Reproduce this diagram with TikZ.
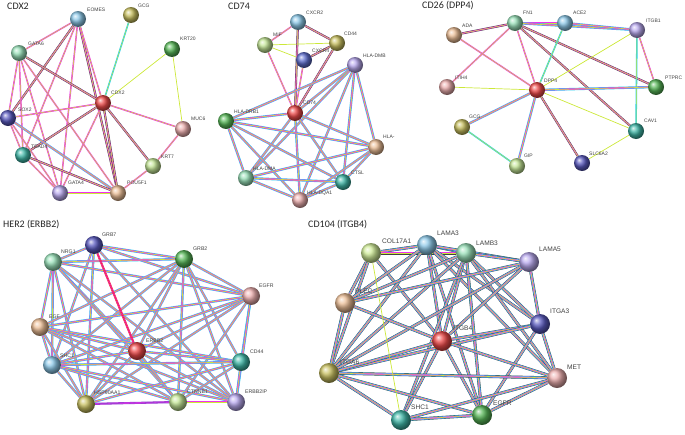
\documentclass[tikz,border=0pt]{standalone}
\usepackage{fontspec}
\newfontfamily\titlefont{Carlito}
\newfontfamily\labfont{Liberation Sans}
\usetikzlibrary{backgrounds}
\definecolor{smag}{HTML}{F030F0}
\definecolor{syel}{HTML}{CCE838}
\definecolor{scyan}{HTML}{28D0F0}
\definecolor{sblk}{HTML}{404040}
\definecolor{sred}{HTML}{F02828}
\definecolor{spur}{HTML}{8040C8}
\definecolor{nlblue}{HTML}{8CC8E8}
\definecolor{nolive}{HTML}{C8C060}
\definecolor{ngreen}{HTML}{58B858}
\definecolor{nmint}{HTML}{98E0B8}
\definecolor{nred}{HTML}{EE4A4A}
\definecolor{nindigo}{HTML}{5A5AC0}
\definecolor{npink}{HTML}{ECAEAE}
\definecolor{nteal}{HTML}{40B8A8}
\definecolor{nlgreen}{HTML}{C4E696}
\definecolor{nlav}{HTML}{B8A8EE}
\definecolor{ntan}{HTML}{ECBE96}
\definecolor{nblue}{HTML}{6070D0}
\definecolor{nyg}{HTML}{D0EC98}
\tikzset{
  nd/.style={circle, inner sep=0pt, minimum size=16pt, shading=ball},
  lb/.style={font=\fontsize{5}{6}\selectfont\labfont, text=black!75, inner sep=0pt, anchor=west},
  lbd/.style={lb, font=\fontsize{5.2}{6}\selectfont\labfont},
  lbe/.style={lb, font=\fontsize{6.6}{7}\selectfont\labfont},
  ttl/.style={font=\fontsize{10}{12}\selectfont\titlefont, text=black!85, inner sep=0pt, anchor=west},
  ey/.style={draw=syel, line width=0.7pt},
  e/.style={draw=smag, line width=0.5pt, double=syel, double distance=0.5pt},
  ek/.style={preaction={draw=sblk, line width=2.1pt}, draw=smag, line width=0.4pt, double=syel, double distance=0.5pt},
  ec/.style={draw=scyan, line width=0.55pt, double=syel, double distance=0.45pt},
  em/.style={preaction={draw=scyan, line width=2.4pt}, draw=smag, line width=0.45pt, double=syel, double distance=0.6pt},
  emk/.style={preaction={draw=sblk, line width=3pt}, preaction={draw=scyan, line width=2.3pt}, draw=smag, line width=0.4pt, double=syel, double distance=0.55pt},
  er/.style={preaction={draw=sred, line width=2.1pt}, draw=smag, line width=0.4pt, double=sred, double distance=0.5pt},
  ep/.style={preaction={draw=spur, line width=2.1pt}, draw=smag, line width=0.45pt, double=spur, double distance=0.45pt},
}
\begin{document}
\begin{tikzpicture}[x=1pt,y=-1pt]
\useasboundingbox (0,0) rectangle (685,434);
% ---------- titles
\node[ttl] (t1) at (7,6) {CDX2};
\node[ttl] (t2) at (228,6) {CD74};
\node[ttl] (t3) at (422,6) {CD26 (DPP4)};
\node[ttl] (t4) at (3,225) {HER2 (ERBB2)};
\node[ttl] (t5) at (308,225) {CD104 (ITGB4)};
% ---------- panel 1 nodes
\node[nd, ball color=nlblue] (aEOMES) at (78,19) {};
\node[nd, ball color=nolive] (aGCG) at (131,15) {};
\node[nd, ball color=ngreen] (aKRT20) at (172,49) {};
\node[nd, ball color=nmint] (aGATA6) at (19,53) {};
\node[nd, ball color=nred] (aCDX2) at (103,103) {};
\node[nd, ball color=nindigo] (aSOX2) at (8,118) {};
\node[nd, ball color=npink] (aMUC6) at (183,129) {};
\node[nd, ball color=nteal] (aTEAD4) at (23,155) {};
\node[nd, ball color=nlgreen] (aKRT7) at (153,166) {};
\node[nd, ball color=nlav] (aGATA4) at (60,193) {};
\node[nd, ball color=ntan] (aPOU5F1) at (118,193) {};
\node[lb] (laEOMES) at (87,10) {EOMES};
\node[lb] (laGCG) at (138,6) {GCG};
\node[lb] (laKRT20) at (180,39) {KRT20};
\node[lb] (laGATA6) at (28,44) {GATA6};
\node[lb] (laCDX2) at (111,93) {CDX2};
\node[lb] (laSOX2) at (18,110) {SOX2};
\node[lb] (laMUC6) at (191,119) {MUC6};
\node[lb] (laTEAD4) at (31,147) {TEAD4};
\node[lb] (laKRT7) at (161,157) {KRT7};
\node[lb] (laGATA4) at (68,183) {GATA4};
\node[lb] (laPOU5F1) at (127,183) {POU5F1};
% ---------- panel 2 nodes
\node[nd, ball color=nlblue] (bCXCR2) at (298,22) {};
\node[nd, ball color=nlgreen] (bMIF) at (265,45) {};
\node[nd, ball color=nolive] (bCD44) at (337,43) {};
\node[nd, ball color=nblue] (bCXCR4) at (304,60) {};
\node[nd, ball color=nlav] (bDMB) at (355,65) {};
\node[nd, ball color=nred] (bCD74) at (295,113) {};
\node[nd, ball color=ngreen] (bDRB1) at (226,121) {};
\node[nd, ball color=ntan] (bHLA) at (376,147) {};
\node[nd, ball color=nmint] (bDMA) at (246,178) {};
\node[nd, ball color=nteal] (bCTSL) at (343,182) {};
\node[nd, ball color=npink] (bDQA1) at (300,200) {};
\node[lb] (lbCXCR2) at (306,13) {CXCR2};
\node[lb] (lbMIF) at (273,35) {MIF};
\node[lb] (lbCD44) at (344,34) {CD44};
\node[lb] (lbCXCR4) at (312,51) {CXCR4};
\node[lb] (lbDMB) at (363,56) {HLA-DMB};
\node[lb] (lbCD74) at (303,103) {CD74};
\node[lb] (lbDRB1) at (234,112) {HLA-DRB1};
\node[lb] (lbHLA) at (383,137) {HLA-};
\node[lb] (lbDMA) at (253,169) {HLA-DMA};
\node[lb] (lbCTSL) at (351,173) {CTSL};
\node[lb] (lbDQA1) at (307,193) {HLA-DQA1};
% ---------- panel 3 nodes
\node[nd, ball color=nmint] (cFN1) at (515,23) {};
\node[nd, ball color=nlblue] (cACE2) at (565,23) {};
\node[nd, ball color=nlav] (cITGB1) at (637,30) {};
\node[nd, ball color=ntan] (cADA) at (454,35) {};
\node[nd, ball color=npink] (cITIH4) at (447,87) {};
\node[nd, ball color=nred] (cDPP4) at (537,90) {};
\node[nd, ball color=ngreen] (cPTPRC) at (656,87) {};
\node[nd, ball color=nolive] (cGCG) at (462,127) {};
\node[nd, ball color=nteal] (cCAV1) at (636,131) {};
\node[nd, ball color=nindigo] (cSLC) at (582,163) {};
\node[nd, ball color=nlgreen] (cGIP) at (517,166) {};
\node[lb] (lcFN1) at (523,13) {FN1};
\node[lb] (lcACE2) at (573,13) {ACE2};
\node[lb] (lcITGB1) at (646,21) {ITGB1};
\node[lb] (lcADA) at (462,26) {ADA};
\node[lb] (lcITIH4) at (455,78) {ITIH4};
\node[lb] (lcDPP4) at (544,81) {DPP4};
\node[lb] (lcPTPRC) at (665,78) {PTPRC};
\node[lb] (lcGCG) at (469,117) {GCG};
\node[lb] (lcCAV1) at (644,121) {CAV1};
\node[lb] (lcSLC) at (589,154) {SLC6A2};
\node[lb] (lcGIP) at (524,156) {GIP};
% ---------- panel 4 nodes
\begin{scope}[nd/.append style={minimum size=18pt}]
\node[nd, ball color=nindigo] (dGRB7) at (94,245) {};
\node[nd, ball color=nmint] (dNRG1) at (53,262) {};
\node[nd, ball color=ngreen] (dGRB2) at (184,259) {};
\node[nd, ball color=npink] (dEGFR) at (251,296) {};
\node[nd, ball color=ntan] (dEGF) at (40,327) {};
\node[nd, ball color=nred] (dERBB2) at (137,351) {};
\node[nd, ball color=nteal] (dCD44) at (241,362) {};
\node[nd, ball color=nlblue] (dSHC1) at (52,365) {};
\node[nd, ball color=nolive] (dHSP) at (86,404) {};
\node[nd, ball color=nlgreen] (dCTNNB1) at (178,402) {};
\node[nd, ball color=nlav] (dERBB2IP) at (236,402) {};
\end{scope}
\node[lbd] (ldGRB7) at (102,235) {GRB7};
\node[lbd] (ldNRG1) at (61,252) {NRG1};
\node[lbd] (ldGRB2) at (193,249) {GRB2};
\node[lbd] (ldEGFR) at (259,286) {EGFR};
\node[lbd] (ldEGF) at (49,317) {EGF};
\node[lbd] (ldERBB2) at (146,341) {ERBB2};
\node[lbd] (ldCD44) at (250,352) {CD44};
\node[lbd] (ldSHC1) at (60,356) {SHC1};
\node[lbd] (ldHSP) at (94,393) {HSP90AA1};
\node[lbd] (ldCTNNB1) at (187,392) {CTNNB1};
\node[lbd] (ldERBB2IP) at (245,392) {ERBB2IP};
% ---------- panel 5 nodes
\begin{scope}[nd/.append style={minimum size=20pt}]
\node[nd, ball color=nyg] (eCOL) at (371,253) {};
\node[nd, ball color=nlblue] (eLAMA3) at (427,245) {};
\node[nd, ball color=nmint] (eLAMB3) at (466,253) {};
\node[nd, ball color=nlav] (eLAMA5) at (529,262) {};
\node[nd, ball color=ntan] (ePLEC) at (345,303) {};
\node[nd, ball color=nindigo] (eITGA3) at (540,324) {};
\node[nd, ball color=nred] (eITGB4) at (442,341) {};
\node[nd, ball color=nolive] (eITGA6) at (329,373) {};
\node[nd, ball color=npink] (eMET) at (557,378) {};
\node[nd, ball color=nteal] (eSHC1) at (401,420) {};
\node[nd, ball color=ngreen] (eEGFR) at (482,415) {};
\end{scope}
\node[lbe] (leCOL) at (382,241) {COL17A1};
\node[lbe] (leLAMA3) at (437,233) {LAMA3};
\node[lbe] (leLAMB3) at (476,243) {LAMB3};
\node[lbe] (leLAMA5) at (539,249) {LAMA5};
\node[lbe] (lePLEC) at (355,291) {PLEC};
\node[lbe] (leITGA3) at (550,311) {ITGA3};
\node[lbe] (leITGB4) at (453,328) {ITGB4};
\node[lbe] (leITGA6) at (340,362) {ITGA6};
\node[lbe] (leMET) at (567,367) {MET};
\node[lbe] (leSHC1) at (411,407) {SHC1};
\node[lbe] (leEGFR) at (493,403) {EGFR};
% ---------- edges
\begin{pgfonlayer}{background}
% panel 1
\draw[e] (aEOMES)--(aGATA6);
\draw[ek] (aEOMES)--(aSOX2);
\draw[e] (aEOMES)--(aTEAD4);
\draw[e] (aEOMES)--(aGATA4);
\draw[ek] (aEOMES)--(aPOU5F1);
\draw[e] (aEOMES)--(aCDX2);
\draw[ec] (aGCG)--(aCDX2);
\draw[ey] (aKRT20)--(aCDX2);
\draw[ey] (aKRT20)--(aMUC6);
\draw[ek] (aGATA6)--(aCDX2);
\draw[e] (aGATA6)--(aSOX2);
\draw[e] (aGATA6)--(aTEAD4);
\draw[e] (aGATA6)--(aGATA4);
\draw[e] (aGATA6)--(aPOU5F1);
\draw[e] (aCDX2)--(aSOX2);
\draw[ek] (aCDX2)--(aTEAD4);
\draw[e] (aCDX2)--(aGATA4);
\draw[ek] (aCDX2)--(aPOU5F1);
\draw[e] (aCDX2)--(aMUC6);
\draw[ek] (aCDX2)--(aKRT7);
\draw[e] (aMUC6)--(aKRT7);
\draw[e] (aKRT7)--(aPOU5F1);
\draw[e] (aSOX2)--(aTEAD4);
\draw[e] (aSOX2)--(aGATA4);
\draw[em] (aSOX2)--(aPOU5F1);
\draw[e] (aTEAD4)--(aGATA4);
\draw[ek] (aTEAD4)--(aPOU5F1);
\draw[e] (aGATA4)--(aPOU5F1);
% panel 2
\draw[e] (bCXCR2)--(bMIF);
\draw[ek] (bCXCR2)--(bCD44);
\draw[ek] (bCXCR2)--(bCD74);
\draw[ey] (bMIF)--(bCD44);
\draw[ey] (bMIF)--(bCXCR4);
\draw[e] (bMIF)--(bCD74);
\draw[ek] (bCXCR4)--(bCD44);
\draw[ek] (bCD44)--(bCD74);
\draw[e] (bCXCR4)--(bCD74);
\foreach \u/\v in {bDMB/bCD74, bDMB/bDRB1, bDMB/bHLA, bDMB/bDMA, bDMB/bDQA1, bDMB/bCTSL,
  bCD74/bDRB1, bCD74/bHLA, bCD74/bDMA, bCD74/bCTSL, bCD74/bDQA1,
  bDRB1/bHLA, bDRB1/bDMA, bDRB1/bDQA1, bDRB1/bCTSL,
  bHLA/bDMA, bHLA/bDQA1, bHLA/bCTSL, bDMA/bDQA1, bDMA/bCTSL, bCTSL/bDQA1}
  \draw[em] (\u)--(\v);
% panel 3
\draw[ek] (cADA)--(cFN1);
\draw[e] (cADA)--(cDPP4);
\draw[ek] (cFN1)--(cACE2);
\draw[em] (cFN1)--(cITGB1);
\draw[e] (cFN1)--(cDPP4);
\draw[e] (cFN1)--(cITIH4);
\draw[ek] (cFN1)--(cPTPRC);
\draw[ek] (cFN1)--(cCAV1);
\draw[em] (cACE2)--(cITGB1);
\draw[ec] (cACE2)--(cDPP4);
\draw[ey] (cITGB1)--(cDPP4);
\draw[e] (cITGB1)--(cPTPRC);
\draw[ec] (cITGB1)--(cCAV1);
\draw[ey] (cITIH4)--(cDPP4);
\draw[em] (cDPP4)--(cPTPRC);
\draw[em] (cDPP4)--(cGCG);
\draw[em] (cDPP4)--(cGIP);
\draw[ek] (cDPP4)--(cSLC);
\draw[ey] (cDPP4)--(cCAV1);
\draw[ec] (cGCG)--(cGIP);
\draw[ey] (cCAV1)--(cSLC);
% panel 4
\foreach \u/\v in {dGRB7/dNRG1, dGRB7/dGRB2, dGRB7/dEGFR, dGRB7/dSHC1, dGRB7/dHSP, dGRB7/dERBB2IP,
  dNRG1/dGRB2, dNRG1/dEGFR, dNRG1/dERBB2, dNRG1/dEGF, dNRG1/dSHC1, dNRG1/dHSP, dNRG1/dCTNNB1, dNRG1/dERBB2IP,
  dGRB2/dEGFR, dGRB2/dEGF, dGRB2/dERBB2, dGRB2/dSHC1, dGRB2/dHSP, dGRB2/dCTNNB1, dGRB2/dERBB2IP, dGRB2/dCD44,
  dEGFR/dEGF, dEGFR/dERBB2, dEGFR/dSHC1, dEGFR/dHSP, dEGFR/dCTNNB1, dEGFR/dCD44, dEGFR/dERBB2IP,
  dEGF/dERBB2, dEGF/dSHC1, dEGF/dHSP, dEGF/dCTNNB1, dEGF/dERBB2IP, dEGF/dCD44,
  dERBB2/dSHC1, dERBB2/dHSP, dERBB2/dCTNNB1, dERBB2/dERBB2IP, dERBB2/dCD44,
  dSHC1/dHSP, dSHC1/dCTNNB1, dSHC1/dERBB2IP, dSHC1/dCD44,
  dHSP/dCD44, dCTNNB1/dERBB2IP, dCTNNB1/dCD44, dCD44/dERBB2IP}
  \draw[em] (\u)--(\v);
\draw[er] (dGRB7)--(dERBB2);
\draw[ep] (dHSP)--(dCTNNB1);
% panel 5
\foreach \u/\v in {eCOL/eLAMA3, eCOL/eLAMB3, eCOL/ePLEC, eCOL/eITGA6, eCOL/eITGB4,
  eLAMA3/eLAMB3, eLAMA3/eLAMA5, eLAMA3/ePLEC, eLAMA3/eITGA6, eLAMA3/eITGB4, eLAMA3/eITGA3, eLAMA3/eMET, eLAMA3/eEGFR,
  eLAMB3/eLAMA5, eLAMB3/ePLEC, eLAMB3/eITGA6, eLAMB3/eITGB4, eLAMB3/eITGA3, eLAMB3/eMET, eLAMB3/eEGFR, eLAMB3/eSHC1,
  eLAMA5/eITGA3, eLAMA5/eITGA6, eLAMA5/eITGB4, eLAMA5/ePLEC,
  ePLEC/eITGA6, ePLEC/eITGB4,
  eITGA3/eITGB4, eITGA3/eITGA6, eITGA3/eMET, eITGA3/eEGFR,
  eITGB4/eITGA6, eITGB4/eMET, eITGB4/eSHC1, eITGB4/eEGFR,
  eITGA6/eMET, eITGA6/eSHC1, eITGA6/eEGFR, eMET/eSHC1, eMET/eEGFR, eSHC1/eEGFR}
  \draw[emk] (\u)--(\v);
\draw[ey] (eCOL)--(eSHC1);
\end{pgfonlayer}
\end{tikzpicture}
\end{document}
